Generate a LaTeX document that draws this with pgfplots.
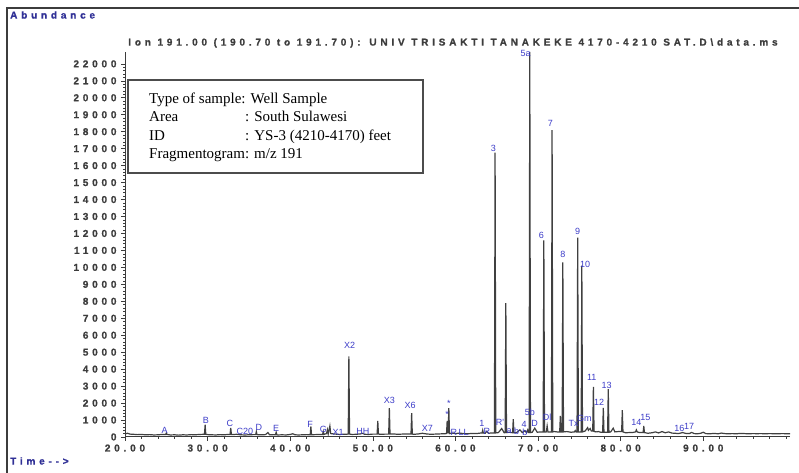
\documentclass[border=0pt]{standalone}
\usepackage{fontspec}
\usepackage{pgfplots}
\pgfplotsset{compat=1.18}
\setmainfont{Liberation Sans}
\newfontfamily\tickfont[LetterSpace=38,FakeBold=1]{Liberation Sans Bold}
\newfontfamily\lblfont{Liberation Sans}
\newfontfamily\boxfont{Liberation Serif}
\definecolor{lblblue}{RGB}{60,60,200}
\definecolor{hdrblue}{RGB}{48,48,150}
\definecolor{ink}{RGB}{60,60,60}
\tikzset{lbl/.style={font=\lblfont\fontsize{9bp}{10bp}\selectfont, text=lblblue, inner sep=0pt}}
\begin{document}
\begin{tikzpicture}[x=1bp,y=1bp]
\path[use as bounding box] (0,0) rectangle (799,473);
\draw[ink, line width=1.5bp] (7,0) -- (7,465) -- (799,465);
\begin{axis}[
  at={(125bp,36bp)}, anchor=south west, scale only axis,
  width=665bp, height=385bp,
  xmin=20, xmax=100.5, ymin=0, ymax=22700,
  axis x line*=bottom, axis y line*=left,
  axis line style={ink, line width=1bp, -},
  xtick={20,30,40,50,60,70,80,90},
  xticklabels={20.00,30.00,40.00,50.00,60.00,70.00,80.00,90.00},
  minor xtick={22,24,...,100},
  ytick={0,1000,...,22000},
  scaled y ticks=false,
  yticklabels={0,1000,2000,3000,4000,5000,6000,7000,8000,9000,10000,11000,12000,13000,14000,15000,16000,17000,18000,19000,20000,21000,22000},
  minor y tick num=4,
  tick align=outside, major tick length=4bp, minor tick length=2bp,
  tick style={ink, line width=0.6bp},
  ticklabel style={font=\tickfont\fontsize{10bp}{11bp}\selectfont, text=ink},
  yticklabel style={xshift=-1bp},
  clip=false,
]
\addplot[black!75, line width=1.2bp] coordinates {
(20.0,180) (20.3,220) (20.6,170) (21.0,160) (21.5,140) (22.0,150) (22.5,130) (23.0,140) (23.5,120) (24.0,130) (24.5,150)
(24.92,150) (25.0,230) (25.08,150)
(25.5,120) (26.0,130) (26.5,110) (27.0,130) (27.5,120) (28.0,140) (28.5,130) (29.0,150)
(29.62,160) (29.7,720) (29.78,160)
(30.0,140) (30.5,130) (31.0,120) (31.5,140) (32.0,130) (32.5,150)
(32.72,150) (32.8,540) (32.88,150)
(33.0,140) (33.5,160) (34.0,130) (34.5,120) (35.0,130) (35.5,140)
(35.82,140) (35.9,320) (35.98,140)
(36.5,130) (37.0,140) (37.3,260) (37.5,130) (38.0,140)
(38.22,130) (38.3,280) (38.38,130)
(38.5,120) (39.0,130) (39.5,120) (40.0,150) (40.3,190) (40.6,130) (41.0,120) (41.5,130) (42.0,140)
(42.42,130) (42.5,620) (42.58,130)
(43.0,140) (43.5,150)
(43.92,150) (44.0,320) (44.08,150)
(44.4,200) (44.5,430) (44.6,180) (44.8,650) (44.9,200) (45.5,170) (46.0,150) (46.5,160)
(47.02,170) (47.1,4760) (47.18,170)
(47.5,150) (48.0,160) (48.5,180) (48.7,220) (49.0,160) (49.5,150) (50.0,170)
(50.52,170) (50.6,950) (50.68,170)
(51.0,160) (51.5,170)
(51.92,170) (52.0,1700) (52.08,170)
(52.5,180) (53.0,160) (53.5,170) (54.0,180)
(54.62,170) (54.7,1400) (54.78,170)
(55.0,160) (55.5,180) (56.0,220) (56.5,180) (57.0,160) (57.5,170) (58.0,180) (58.5,190)
(58.92,200) (59.0,950) (59.08,250) (59.12,250) (59.2,1700) (59.28,200)
(59.6,230) (60.0,200) (60.5,230) (61.0,200) (61.5,190) (62.0,210) (62.5,200) (63.0,230)
(63.22,230) (63.3,400) (63.38,230) (63.6,220) (63.8,330) (64.0,220) (64.4,240)
(64.72,240) (64.8,16760) (64.88,240)
(65.2,260) (65.6,500) (65.9,250)
(66.02,260) (66.1,7900) (66.18,260)
(66.5,280) (66.92,250) (67.0,1050) (67.08,250)
(67.4,260) (67.8,420) (68.1,260) (68.4,380) (68.6,250) (68.75,420) (68.85,260)
(68.92,260) (69.0,22700) (69.08,260)
(69.3,280) (69.6,520) (69.9,280) (70.3,300)
(70.62,290) (70.7,11590) (70.78,290)
(71.0,300) (71.1,650) (71.2,300)
(71.62,300) (71.7,18100) (71.78,300)
(72.0,320) (72.3,300)
(72.62,300) (72.7,1250) (72.78,300)
(72.92,300) (73.0,10300) (73.08,300)
(73.5,320) (74.0,280) (74.4,300) (74.5,380) (74.6,300)
(74.72,300) (74.8,11760) (74.88,300)
(75.22,300) (75.3,10100) (75.38,300)
(75.7,350) (76.0,550) (76.1,400) (76.3,500) (76.45,350)
(76.62,350) (76.7,2960) (76.78,330)
(77.0,300) (77.3,320) (77.6,280)
(77.82,280) (77.9,1720) (77.98,280)
(78.42,280) (78.5,2820) (78.58,280)
(78.8,300) (79.1,520) (79.3,300) (79.7,320)
(80.12,320) (80.2,1590) (80.28,300)
(80.6,250) (81.0,260) (81.5,270)
(81.8,300) (81.9,420) (82.0,300)
(82.3,260)
(82.72,260) (82.8,650) (82.88,260)
(83.3,220) (83.8,250) (84.2,300) (84.6,240) (85.0,320) (85.4,250) (85.8,300) (86.2,230) (86.6,220) (87.0,200) (87.5,260) (87.9,210) (88.3,200) (88.6,270) (88.9,200) (89.3,190) (89.7,220) (90.0,280) (90.3,200) (90.8,190) (91.3,210) (91.8,190) (92.2,230) (92.6,200) (93.0,190) (93.5,200) (94.0,190) (94.5,210) (95.0,200) (95.5,190) (96.0,200) (96.5,195) (97.0,200) (97.5,190) (98.0,200) (98.5,195) (99.0,190) (99.5,200) (100.0,195) (100.5,190)
};
\node[lbl] at (axis cs:24.8,410) {A};
\node[lbl] at (axis cs:29.8,1000) {B};
\node[lbl] at (axis cs:32.7,820) {C};
\node[lbl] at (axis cs:34.5,350) {C20};
\node[lbl] at (axis cs:36.2,590) {D};
\node[lbl] at (axis cs:38.3,530) {E};
\node[lbl] at (axis cs:42.4,760) {F};
\node[lbl] at (axis cs:44.0,470) {G};
\node[lbl] at (axis cs:45.8,290) {X1};
\node[lbl] at (axis cs:47.2,5410) {X2};
\node[lbl] at (axis cs:48.8,350) {HH};
\node[lbl] at (axis cs:52.0,2180) {X3};
\node[lbl] at (axis cs:54.5,1880) {X6};
\node[lbl] at (axis cs:56.6,530) {X7};
\node[lbl] at (axis cs:59.2,2000) {*};
\node[lbl] at (axis cs:59.0,1350) {*};
\node[lbl] at (axis cs:59.8,290) {R};
\node[lbl] at (axis cs:61.0,290) {LL};
\node[lbl] at (axis cs:63.2,820) {1};
\node[lbl] at (axis cs:63.8,350) {R};
\node[lbl] at (axis cs:65.4,880) {R'};
\node[lbl] at (axis cs:66.5,350) {a};
\node[lbl] at (axis cs:67.4,350) {b};
\node[lbl] at (axis cs:68.3,750) {4};
\node[lbl] at (axis cs:68.4,250) {b};
\node[lbl] at (axis cs:69.0,1450) {5b};
\node[lbl] at (axis cs:69.6,820) {D};
\node[lbl] at (axis cs:71.1,1180) {Dl};
\node[lbl] at (axis cs:74.3,820) {Tx};
\node[lbl] at (axis cs:75.6,1110) {Gm};
\node[lbl] at (axis cs:64.6,17000) {3};
\node[lbl] at (axis cs:68.5,22590) {5a};
\node[lbl] at (axis cs:70.4,11880) {6};
\node[lbl] at (axis cs:71.5,18470) {7};
\node[lbl] at (axis cs:73.0,10760) {8};
\node[lbl] at (axis cs:74.8,12120) {9};
\node[lbl] at (axis cs:75.7,10180) {10};
\node[lbl] at (axis cs:76.5,3530) {11};
\node[lbl] at (axis cs:77.4,2060) {12};
\node[lbl] at (axis cs:78.3,3060) {13};
\node[lbl] at (axis cs:81.9,880) {14};
\node[lbl] at (axis cs:83.0,1180) {15};
\node[lbl] at (axis cs:87.1,530) {16};
\node[lbl] at (axis cs:88.3,650) {17};
\end{axis}
\node[anchor=west, inner sep=0pt, text=hdrblue, font=\tickfont\fontsize{10bp}{11bp}\selectfont] at (10,458) {Abundance};
\node[anchor=west, inner sep=0pt, text=hdrblue, font=\tickfont\fontsize{10bp}{11bp}\selectfont] at (10,12) {Time-->};
\node[inner sep=0pt, text=ink, font=\tickfont\fontsize{10bp}{11bp}\selectfont] at (453,430) {Ion 191.00 (190.70 to 191.70): UNIV TRISAKTI TANAKEKE 4170-4210 SAT.D\textbackslash data.ms};
\draw[fill=white, draw=black!70, line width=1.3bp] (128,300) rectangle (423,393);
\begin{scope}[every node/.style={anchor=base west, inner sep=0pt, font=\boxfont\fontsize{15bp}{16bp}\selectfont}]
\node at (149,369) {Type of sample: Well Sample};
\node at (149,351) {\makebox[96bp][l]{Area}: South Sulawesi};
\node at (149,332) {\makebox[96bp][l]{ID}: YS-3 (4210-4170) feet};
\node at (149,314) {Fragmentogram: m/z 191};
\end{scope}
\end{tikzpicture}
\end{document}
